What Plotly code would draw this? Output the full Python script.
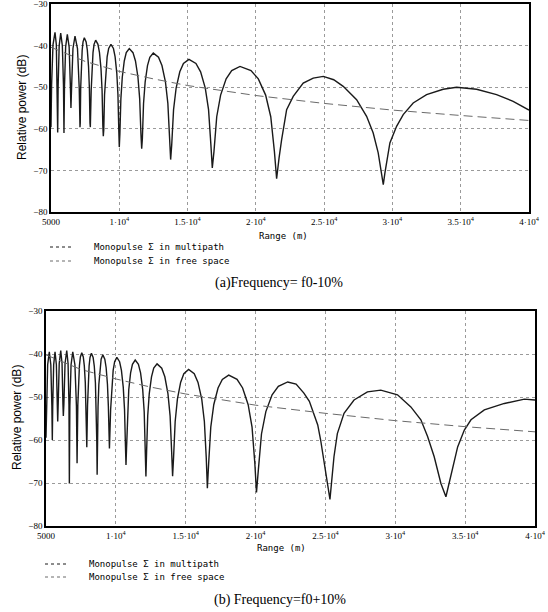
import plotly.graph_objects as go

W, H = 548, 612

# ------------------------------
# Données : (portée m, puissance relative dB)
multipath_a = [
    (5000, -59.6), (5044, -49.4), (5146, -39.8), (5293, -36.8), (5391, -39.8), (5460, -49.4),
    (5490, -60.9), (5523, -49.6), (5600, -40.0), (5710, -37.0), (5830, -40.0), (5914, -49.6),
    (5950, -61.0), (5987, -49.9), (6072, -40.3), (6195, -37.3), (6328, -40.3), (6420, -49.9),
    (6460, -55.0), (6505, -50.3), (6608, -40.7), (6757, -37.7), (6940, -40.7), (7068, -50.3),
    (7123, -59.6), (7142, -58.6), (7174, -50.2), (7218, -45.0), (7282, -41.1), (7345, -39.1),
    (7440, -38.1), (7572, -39.1), (7660, -41.1), (7748, -45.0), (7810, -50.2), (7854, -58.6),
    (7880, -59.6), (7942, -50.8), (7997, -45.6), (8075, -41.7), (8153, -39.7), (8270, -38.7),
    (8438, -39.7), (8550, -41.7), (8662, -45.6), (8740, -50.8), (8796, -59.2), (8830, -61.8),
    (8864, -60.2), (8920, -51.8), (8998, -46.6), (9110, -42.7), (9222, -40.7), (9390, -39.7),
    (9573, -40.7), (9695, -42.7), (9817, -46.6), (9902, -51.8), (9963, -60.2), (10000, -64.4),
    (10044, -61.2), (10117, -52.8), (10219, -47.6), (10365, -43.7), (10511, -41.7), (10730, -40.7),
    (11003, -41.7), (11185, -43.7), (11367, -47.6), (11494, -52.8), (11585, -61.2), (11640, -64.8),
    (11691, -62.3), (11776, -53.9), (11895, -48.7), (12065, -44.8), (12235, -42.8), (12490, -41.8),
    (12871, -42.8), (13125, -44.8), (13379, -48.7), (13557, -53.9), (13684, -62.3), (13760, -67.4),
    (13840, -63.8), (13974, -55.4), (14162, -50.2), (14430, -46.3), (14698, -44.3), (15100, -43.3),
    (15613, -44.3), (15955, -46.3), (16297, -50.2), (16536, -55.4), (16707, -63.8), (16810, -69.4),
    (16932, -65.5), (17135, -57.1), (17419, -51.9), (17825, -48.0), (18231, -46.0), (18840, -45.0),
    (19644, -46.0), (20180, -48.0), (20716, -51.9), (21091, -57.1), (21359, -65.5), (21520, -72.0),
    (21700, -67.0), (21887, -62.6), (22253, -55.4), (22736, -52.2), (23468, -49.0), (24200, -47.8),
    (24940, -47.4), (25700, -48.2), (26396, -49.8), (27377, -53.0), (28109, -57.0), (28592, -61.0),
    (28958, -65.8), (29330, -73.4), (29450, -70.6), (29815, -63.4), (30305, -59.4), (30790, -56.6),
    (31520, -53.8), (32500, -51.8), (33716, -50.5), (34697, -50.0), (36161, -50.5), (37625, -51.8),
    (38840, -53.4), (40000, -55.5),
]
freespace_a = [
    (5000, -40.4), (7500, -43.8), (10000, -46.2), (12500, -48.0), (15000, -49.6),
    (20000, -52.0), (25000, -53.9), (30000, -55.5), (35000, -56.8), (40000, -58.0),
]

multipath_b = [
    (5000, -59.5), (5036, -52.1), (5119, -42.5), (5237, -39.5), (5345, -42.5), (5420, -52.1),
    (5452, -60.0), (5481, -52.1), (5549, -42.5), (5646, -39.5), (5743, -42.5), (5810, -52.1),
    (5839, -55.7), (5871, -51.8), (5947, -42.2), (6055, -39.2), (6148, -42.2), (6213, -51.8),
    (6241, -54.4), (6278, -51.8), (6363, -42.2), (6485, -39.2), (6579, -42.2), (6644, -51.8),
    (6672, -70.1), (6708, -52.1), (6794, -42.5), (6915, -39.5), (7070, -42.5), (7178, -52.1),
    (7224, -65.4), (7244, -60.2), (7278, -51.8), (7325, -46.6), (7393, -42.7), (7460, -40.7),
    (7561, -39.7), (7669, -40.7), (7741, -42.7), (7812, -46.6), (7863, -51.8), (7898, -60.2),
    (7920, -61.7), (7973, -51.9), (8019, -46.7), (8085, -42.8), (8151, -40.8), (8250, -39.8),
    (8373, -40.8), (8455, -42.8), (8537, -46.7), (8594, -51.9), (8635, -60.3), (8660, -68.1),
    (8684, -60.7), (8725, -52.3), (8782, -47.1), (8864, -43.2), (8946, -41.2), (9068, -40.2),
    (9210, -41.2), (9305, -43.2), (9399, -47.1), (9465, -52.3), (9513, -60.7), (9541, -62.0),
    (9626, -52.9), (9700, -47.7), (9807, -43.8), (9913, -41.8), (10072, -40.8),
    (10268, -41.8), (10399, -43.8), (10529, -47.7), (10621, -52.9), (10686, -61.3), (10725, -65.8),
    (10765, -61.9), (10831, -53.5), (10923, -48.3), (11055, -44.4), (11187, -42.4), (11385, -41.4),
    (11615, -42.4), (11769, -44.4), (11922, -48.3), (12029, -53.5), (12106, -61.9), (12152, -68.5),
    (12200, -62.8), (12280, -54.4), (12391, -49.2), (12551, -45.3), (12711, -43.3), (12950, -42.3),
    (13283, -43.3), (13506, -45.3), (13728, -49.2), (13883, -54.4), (13994, -62.8), (14061, -68.4),
    (14130, -64.1), (14245, -55.7), (14405, -50.5), (14635, -46.6), (14865, -44.6), (15209, -43.6),
    (15611, -44.6), (15880, -46.6), (16148, -50.5), (16335, -55.7), (16470, -64.1), (16550, -71.2),
    (16642, -65.4), (16794, -57.0), (17008, -51.8), (17314, -47.9), (17620, -45.9), (18078, -44.9),
    (18674, -45.9), (19072, -47.9), (19470, -51.8), (19748, -57.0), (19947, -65.4), (20066, -72.2),
    (20200, -66.9), (20423, -58.6), (20736, -53.4), (21183, -49.5), (21630, -47.5), (22300, -46.5),
    (22900, -47.0), (23459, -49.1), (23850, -51.0), (24176, -53.8), (24450, -56.5), (24657, -60.0),
    (25015, -67.0), (25324, -73.8), (25612, -63.9), (25853, -58.5), (26331, -53.8), (27048, -50.7),
    (28007, -48.8), (28962, -48.4), (30159, -49.5), (31114, -52.3), (31831, -55.3), (32312, -59.2),
    (32785, -63.9), (33266, -70.1), (33624, -73.2), (34105, -66.2), (34464, -61.6), (34942, -57.7),
    (35418, -55.3), (36373, -53.0), (37808, -51.5), (39243, -50.5), (40000, -50.7),
]
freespace_b = [
    (5000, -40.2), (7500, -43.6), (10000, -45.8), (12500, -47.7), (15000, -49.3),
    (20000, -51.9), (25000, -53.8), (30000, -55.5), (35000, -56.9), (40000, -58.1),
]

x_tickvals = [5000, 10000, 15000, 20000, 25000, 30000, 35000, 40000]
x_ticktext = ["5000", "1·10<sup>4</sup>", "1.5·10<sup>4</sup>", "2·10<sup>4</sup>",
              "2.5·10<sup>4</sup>", "3·10<sup>4</sup>", "3.5·10<sup>4</sup>", "4·10<sup>4</sup>"]
y_tickvals = [-80, -70, -60, -50, -40, -30]

name_mp = "Monopulse Σ in multipath"
name_fs = "Monopulse Σ in free space"

MONO = "DejaVu Sans Mono"
SERIF = "Liberation Serif"
MP_COLOR = "#1a1a1a"
FS_COLOR = "#6a6a6a"


def px(x):
    return x / W


def py(y):
    return 1 - y / H


fig = go.Figure()

panels = [
    (multipath_a, freespace_a, "x", "y"),
    (multipath_b, freespace_b, "x2", "y2"),
]
for mp, fs, xa, ya in panels:
    fig.add_trace(go.Scatter(
        x=[p[0] for p in mp], y=[p[1] for p in mp],
        mode="lines", name=name_mp, xaxis=xa, yaxis=ya,
        line=dict(color=MP_COLOR, width=1.4),
    ))
    fig.add_trace(go.Scatter(
        x=[p[0] for p in fs], y=[p[1] for p in fs],
        mode="lines", name=name_fs, xaxis=xa, yaxis=ya,
        line=dict(color=FS_COLOR, width=1, dash="9px,5px"),
    ))

axis_common = dict(
    showline=True, mirror=True, linecolor="black", linewidth=1.5,
    showgrid=True, gridcolor="#9a9a9a", griddash="dot", gridwidth=1,
    zeroline=False, ticks="", automargin=False, ticklabeloverflow="allow",
    tickfont=dict(family=SERIF, size=9, color="black"),
)
xcommon = dict(axis_common, range=[5000, 40000], tickvals=x_tickvals, ticktext=x_ticktext)
ycommon = dict(axis_common, range=[-80, -30], tickvals=y_tickvals)


def note(text, x, y, size, family, xanchor="center", angle=0):
    return dict(
        text=text, x=px(x), y=py(y), xref="paper", yref="paper",
        xanchor=xanchor, yanchor="middle", textangle=angle, showarrow=False,
        font=dict(family=family, size=size, color="black"),
    )


# ------------------------------
# Titres, légendes (texte + petit trait) et légendes de figure
annotations = []
shapes = []
for ytitle_x, ytitle_y, range_x, range_y, leg_x, leg_y1, leg_y2, cap_x, cap_y, caption in [
    (22, 108, 283, 236, 50, 247, 261, 279, 283, "(a)Frequency= f0-10%"),
    (17, 418, 281, 548, 45, 564, 577, 280, 600, "(b) Frequency=f0+10%"),
]:
    annotations.append(note("Relative power (dB)", ytitle_x, ytitle_y, 12, "Liberation Sans", angle=-90))
    annotations.append(note("Range (m)", range_x, range_y, 9, MONO))
    for ly, label, col in [(leg_y1, name_mp, MP_COLOR), (leg_y2, name_fs, FS_COLOR)]:
        shapes.append(dict(
            type="line", xref="paper", yref="paper",
            x0=px(leg_x), x1=px(leg_x + 22), y0=py(ly), y1=py(ly),
            line=dict(color=col, width=1, dash="dot"),
        ))
        annotations.append(note(label, leg_x + 42, ly, 9, MONO, xanchor="left"))
    annotations.append(note(caption, cap_x, cap_y, 14, SERIF))

fig.update_layout(
    width=W, height=H,
    margin=dict(l=0, r=0, t=0, b=0),
    plot_bgcolor="white", paper_bgcolor="white",
    xaxis=dict(xcommon, domain=[px(51), px(529)], anchor="y"),
    yaxis=dict(ycommon, domain=[py(212), py(4)], anchor="x"),
    xaxis2=dict(xcommon, domain=[px(46), px(535)], anchor="y2"),
    yaxis2=dict(ycommon, domain=[py(526), py(311)], anchor="x2"),
    annotations=annotations,
    shapes=shapes,
    showlegend=False,
)

# la page HTML a une marge de 8 px par défaut : on la retire
fig.write_html("out.html", config={"displayModeBar": False},
               post_script="document.body.style.margin='0';")
